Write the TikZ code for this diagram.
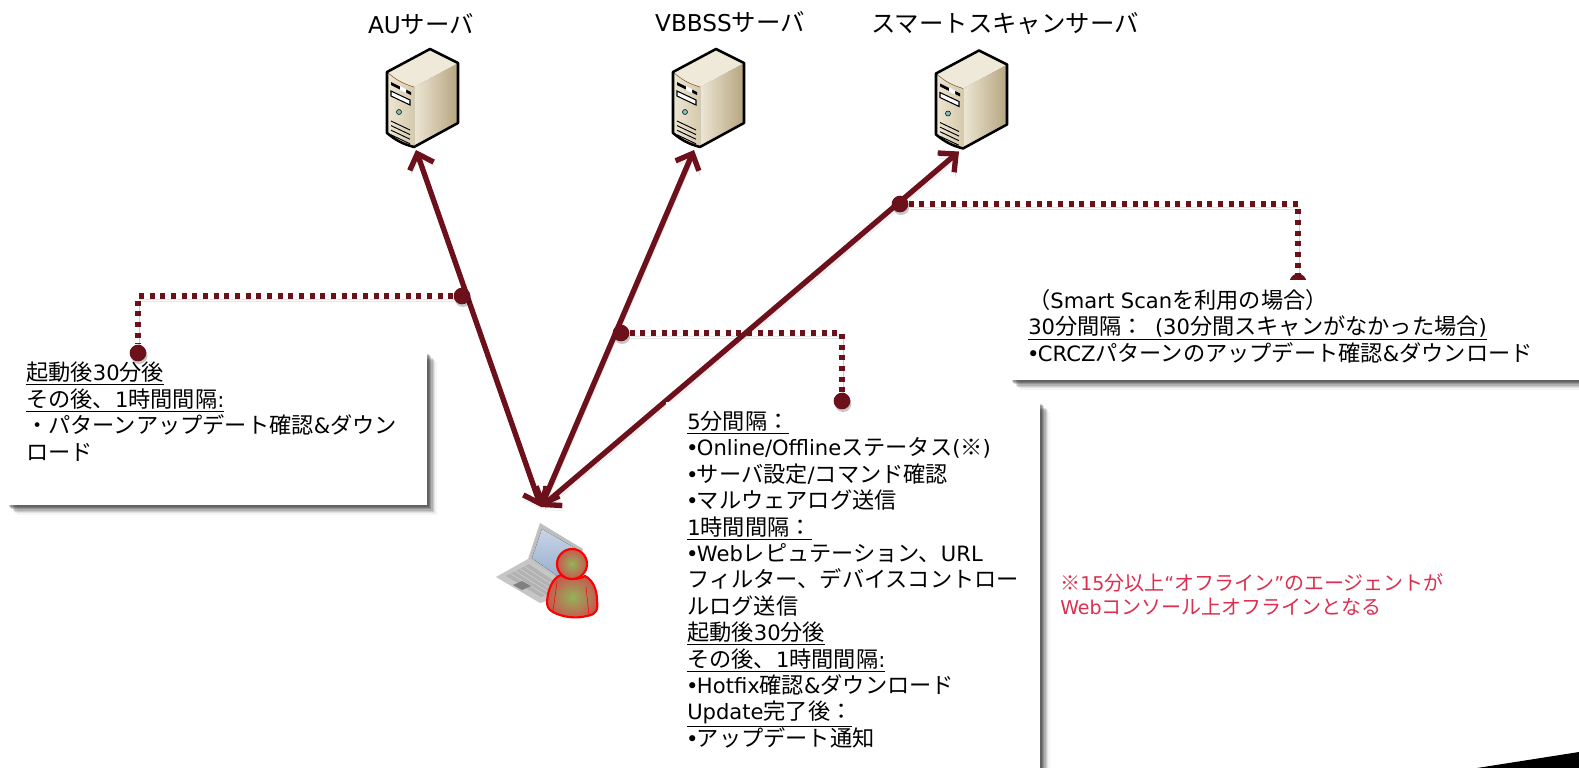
\documentclass[tikz,border=0pt]{standalone}
\usepackage{fontspec}
\setmainfont{Noto Sans CJK JP}
\newfontfamily\latinfont[Scale=.95]{DejaVu Sans}
\usetikzlibrary{arrows.meta,shadows}
\definecolor{linecol}{HTML}{6C111C}
\definecolor{notecol}{HTML}{DC2F50}
\definecolor{srvtop}{HTML}{EFE9D9}
\definecolor{srvlight}{HTML}{EDE6D4}
\definecolor{srvmid}{HTML}{D6CAAC}
\definecolor{srvdark}{HTML}{B5A57F}
\definecolor{manin}{HTML}{93B35A}
\definecolor{manout}{HTML}{C65A50}
\definecolor{lcdtop}{HTML}{C8D4E6}
\definecolor{lcdlow}{HTML}{8FA9CB}
\newcommand{\ltn}[1]{{\latinfont #1}}
\newcommand{\uln}[1]{\underline{#1}}
\newcommand{\blt}{{\latinfont\kern-.05em•\kern-.08em}}
\newcommand{\ServerIcon}[1]{
	\begin{scope}[shift={(#1)}]
		\fill[left color=srvlight,right color=srvdark] (0,-60) -- (44,-84) -- (44,-24) -- (0,0) -- cycle;
		\fill[left color=srvlight,right color=srvmid] (-27,-75) to[bend right=12] (0,-60) -- (0,0) to[bend left=12] (-27,-14) -- cycle;
		\fill[srvtop] (-27,-75) -- (16,-98) -- (44,-84) -- (0,-60) to[bend left=12] cycle;
		\draw[brown!70!black,thin] (-27,-75) to[bend right=12] (0,-60);
		\draw[line width=1.9pt,line join=round] (-27,-75) -- (16,-98) -- (44,-84) -- (44,-24) -- (0,0) to[bend left=12] (-27,-14) -- cycle;
		\fill (-23,-65) -- (-3,-55) -- (-3,-52) -- (-23,-62) -- cycle;
		\fill[white] (-14,-61) -- (-8,-58) -- (-8,-54) -- (-14,-57) -- cycle;
		\draw[fill=white,line width=.8pt] (-23,-56) -- (-4,-47) -- (-4,-42) -- (-23,-51) -- cycle;
		\draw[fill=teal!50!white] (-15,-35) circle (2.5);
		\foreach \i in {0,1,2,3} {
			\draw[line width=.7pt] (-23,-26+\i*4.6) -- (-4,-17+\i*4.6);
		}
	\end{scope}
}
\tikzset{
	srvlabel/.style={inner sep=0,font=\fontsize{18.3}{22}\selectfont},
	twoway/.style={<->,>={Straight Barb[length=10pt,width=19pt]},draw=linecol,line width=4pt,line cap=round,
		preaction={draw=black,opacity=.1,transform canvas={xshift=1pt,yshift=-4pt}},
		preaction={draw=black,opacity=.12,transform canvas={xshift=1pt,yshift=-2.5pt}}},
	dotline/.style={draw=linecol,line width=4.2pt,dash pattern=on 3.8pt off 4.2pt,
		preaction={draw=black,opacity=.1,transform canvas={xshift=1pt,yshift=-4pt}},
		preaction={draw=black,opacity=.1,transform canvas={xshift=1pt,yshift=-2.5pt}}},
	pinhead/.style={circle,fill=linecol,inner sep=0,minimum size=12.5pt},
	pinshadow/.style={drop shadow={shadow xshift=.8pt,shadow yshift=-2pt,fill=black,opacity=.22}},
	card/.style={fill=white,inner sep=0,anchor=north west,
		drop shadow={shadow xshift=7pt,shadow yshift=-7pt,fill=black,opacity=.04},
		drop shadow={shadow xshift=6pt,shadow yshift=-6pt,fill=black,opacity=.07},
		drop shadow={shadow xshift=5pt,shadow yshift=-5pt,fill=black,opacity=.1},
		drop shadow={shadow xshift=4pt,shadow yshift=-4pt,fill=black,opacity=.13},
		drop shadow={shadow xshift=3pt,shadow yshift=-3pt,fill=black,opacity=.16},
		drop shadow={shadow xshift=2pt,shadow yshift=-2pt,fill=black,opacity=.18},
		drop shadow={shadow xshift=1pt,shadow yshift=-1pt,fill=black,opacity=.18}},
	cardtext/.style={inner sep=0,anchor=north west,align=left,font=\fontsize{16.65}{19.8}\selectfont},
	notetext/.style={inner sep=0,anchor=north west,align=left,text=notecol,font=\fontsize{15}{18}\selectfont}
}

\begin{document}
\begin{tikzpicture}[x=.75pt,y=-.75pt]
	\useasboundingbox (0,0) rectangle (1579,768);
	\clip (0,0) rectangle (1579,768);
	\fill[white] (0,0) rectangle (1579,768);
	\fill (1477,768) -- (1579,752) -- (1579,768) -- cycle;

	\node[srvlabel] (aulabel) at (421,24) {\ltn{AU}サーバ};
	\node[srvlabel] (vblabel) at (730,22) {\ltn{VBBSS}サーバ};
	\node[srvlabel] (smlabel) at (1005,24) {スマートスキャンサーバ};
	\ServerIcon{414,147}
	\ServerIcon{700,147}
	\ServerIcon{963,148.5}

	\fill[gray!50] (540,523) -- (583,549) -- (575,592) -- (528,559) -- cycle;
	\fill[top color=lcdtop,bottom color=lcdlow] (542,529) -- (580,551) -- (572,586) -- (532,558) -- cycle;
	\fill[gray!45] (496,577) -- (528,559) -- (578,592) -- (540,603) -- cycle;
	\fill[gray!60] (506,576) -- (529,564) -- (566,589) -- (541,597) -- cycle;
	\foreach \i in {1,2,3,4} {
		\draw[gray!35,thin] (506+\i*4.6,576-\i*2.4) -- (541+\i*5,597-\i*1.6);
	}
	\fill[gray] (513,585) -- (522,581) -- (531,586) -- (522,590) -- cycle;
	\draw[red,line width=1.6pt,line join=round,inner color=manin,outer color=manout] (547,602)
		.. controls (548,588) and (553,578) .. (561,575)
		.. controls (568,580) and (578,580) .. (585,576)
		.. controls (593,580) and (597,590) .. (597,600)
		.. controls (598,610) and (597,614) .. (587,616)
		.. controls (575,619) and (562,617) .. (553,612)
		.. controls (549,610) and (547,607) .. (547,602) -- cycle;
	\draw[red,thin] (557,582) -- (553,611);
	\draw[red,thin] (586,587) -- (589,615);
	\node[circle,draw=red,line width=1.6pt,inner color=manin,outer color=manout,inner sep=0,minimum size=22.5pt] (userhead) at (572,564) {};

	\coordinate (usertip) at (541,507);
	\coordinate (autip) at (416,150);
	\coordinate (vbtip) at (694,150);
	\coordinate (smtip) at (959,151.5);
	\draw[twoway] (usertip) -- (autip);
	\draw[twoway] (usertip) -- (vbtip);
	\draw[twoway] (usertip) -- (smtip);

	\node[pinhead,pinshadow] (smend) at (1298,282) {};
	\node[card,minimum width=450pt,minimum height=75pt] (smcard) at (1010,280) {};
	\node[card,minimum width=315pt,minimum height=114.75pt] (aucard) at (7,352) {};
	\node[card,minimum width=280.5pt,minimum height=300pt] (vbcard) at (666,402) {};

	\node[cardtext] (autext) at (26,362) {\uln{起動後\ltn{30}分後}\\\uln{その後、\ltn{1}時間間隔\ltn{:}}\\・パターンアップデート確認\ltn{\&}ダウン\\ロード};
	\node[cardtext] (vbtext) at (687,411) {\uln{\ltn{5}分間隔：}\\\blt\ltn{Online/Offline}ステータス\ltn{(}※\ltn{)}\\\blt サーバ設定\ltn{/}コマンド確認\\\blt マルウェアログ送信\\\uln{\ltn{1}時間間隔：}\\\blt\ltn{Web}レピュテーション、\ltn{URL}\\フィルター、デバイスコントロー\\ルログ送信\\\uln{起動後\ltn{30}分後}\\\uln{その後、\ltn{1}時間間隔\ltn{:}}\\\blt\ltn{Hotfix}確認\ltn{\&}ダウンロード\\\uln{\ltn{Update}完了後：}\\\blt アップデート通知};
	\node[cardtext] (smtext) at (1028,289) {（\ltn{Smart Scan}を利用の場合）\\\uln{\ltn{30}分間隔：\hspace{.5em}\ltn{(30}分間スキャンがなかった場合\ltn{)}}\\\blt\ltn{CRCZ}パターンのアップデート確認\ltn{\&}ダウンロード};
	\node[notetext] (note) at (1060,573) {※\ltn{15}分以上\ltn{“}オフライン\ltn{”}のエージェントが\\\ltn{Web}コンソール上オフラインとなる};

	\node[pinhead,pinshadow] (audot) at (462,296) {};
	\node[pinhead,pinshadow] (auend) at (138,353) {};
	\node[pinhead,pinshadow] (vbdot) at (621,333) {};
	\node[pinhead,pinshadow] (vbend) at (842,401) {};
	\node[pinhead,pinshadow] (smdot) at (900,204) {};
	\draw[dotline] (audot) -| (auend);
	\draw[dotline] (vbdot) -| (vbend);
	\draw[dotline] (smdot) -| (smend);
\end{tikzpicture}
\end{document}
